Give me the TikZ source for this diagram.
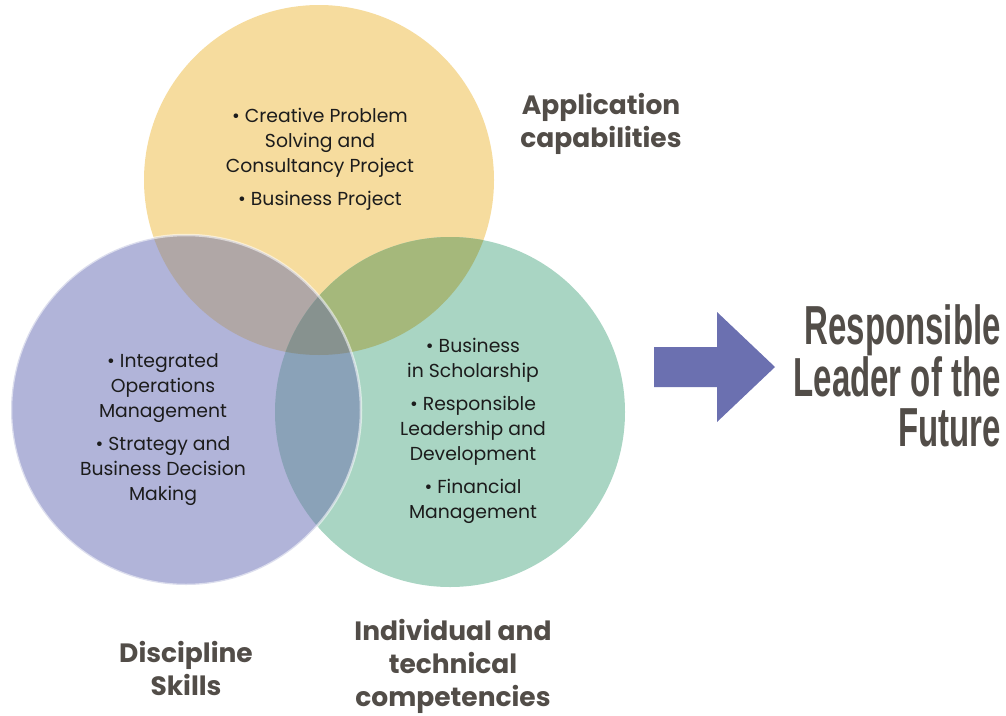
\documentclass[tikz,border=0pt]{standalone}
\usepackage{fontspec}
\setmainfont{Poppins}
\newfontfamily\leaderfont[FakeStretch=0.6]{Liberation Sans}
\usetikzlibrary{positioning}

\definecolor{yel}{HTML}{F6DC9E}
\definecolor{pur}{HTML}{B1B4D9}
\definecolor{grn}{HTML}{A9D5C3}
\definecolor{yelpur}{HTML}{B0A7A6}
\definecolor{yelgrn}{HTML}{A5B87B}
\definecolor{purgrn}{HTML}{8AA2B8}
\definecolor{allthree}{HTML}{87928F}
\definecolor{arrowblue}{HTML}{6B70B0}
\definecolor{darkgray}{HTML}{524D48}
\definecolor{inkblack}{HTML}{1C1C1C}

\begin{document}
\begin{tikzpicture}[
						x=1pt, y=-1pt,
						bullets/.style={align=center, text=inkblack, inner sep=0pt, font=\fontsize{18.8}{25}\selectfont},
						heading/.style={align=center, text=darkgray, inner sep=0pt, font=\fontsize{26.5}{33}\selectfont\bfseries},
						leader/.style={align=right, text=darkgray, inner sep=0pt, font=\fontsize{55}{50}\selectfont\leaderfont\bfseries}
					]
					\useasboundingbox (0,0) rectangle (1006,715);
					\coordinate (yc) at (319,180);
					\coordinate (pc) at (186,410);
					\coordinate (gc) at (450,412);
					% the three sets
					\fill[yel] (yc) circle (175);
					\fill[grn] (gc) circle (175);
					\fill[pur] (pc) circle (175);
					% overlaps
					\begin{scope}
					\clip (yc) circle (175);
					\fill[yelpur] (pc) circle (175);
					\fill[yelgrn] (gc) circle (175);
					\end{scope}
					\begin{scope}
					\clip (pc) circle (175);
					\fill[purgrn] (gc) circle (175);
					\clip (gc) circle (175);
					\fill[allthree] (yc) circle (175);
					\end{scope}
					\draw[white, opacity=0.55, line width=2.5pt] (pc) circle (175);
					% contents
					\node[bullets] (ytext) at (320,159) {\textbullet\ Creative Problem\\Solving and\\Consultancy Project\\[8pt]\textbullet\ Business Project};
					\node[bullets] (ptext) at (163,430) {\textbullet\ Integrated\\Operations\\Management\\[8pt]\textbullet\ Strategy and\\Business Decision\\Making};
					\node[bullets] (gtext) at (473,431) {\textbullet\ Business\\in Scholarship\\[8pt]\textbullet\ Responsible\\Leadership and\\Development\\[8pt]\textbullet\ Financial\\Management};
					\node[heading] (app) at (601,124) {Application\\capabilities};
					\node[heading] (disc) at (186,668) {Discipline\\Skills};
					\node[heading] (indiv) at (453,666) {Individual and\\technical\\competencies};
					\node[leader] (future) [anchor=east] at (1001,376) {Responsible\\Leader of the\\Future};
					% arrow
					\fill[arrowblue] (654,347) -- (717,347) -- (717,312) -- (775,367) -- (717,422) -- (717,387) -- (654,387) -- cycle;
					\end{tikzpicture}
\end{document}
